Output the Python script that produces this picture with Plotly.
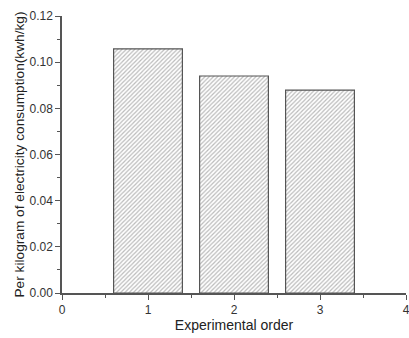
import plotly.graph_objects as go

categories = [1, 2, 3]
values = [0.1058, 0.0940, 0.0879]
x_tickvals = [0, 1, 2, 3, 4]
y_tickvals = [0.00, 0.02, 0.04, 0.06, 0.08, 0.10, 0.12]

fig = go.Figure()
fig.add_trace(go.Bar(
    x=categories, y=values, width=0.8,
    marker=dict(
        color="white",
        line=dict(color="#555555", width=1.2),
        pattern=dict(shape="/", fgcolor="#777777", bgcolor="white", size=3, solidity=0.4),
    ),
    showlegend=False,
))

axis_font = dict(family="Liberation Sans, Arial, sans-serif", size=12, color="#333333")
fig.update_layout(
    width=409, height=338,
    margin=dict(l=62, r=3, t=16, b=45),
    plot_bgcolor="white", paper_bgcolor="white",
    font=axis_font,
    bargap=0.2,
)
fig.update_xaxes(
    range=[0, 4], tickvals=x_tickvals, ticktext=[str(v) for v in x_tickvals],
    showline=True, linecolor="#555555", linewidth=1.5,
    ticks="outside", ticklen=5, tickwidth=1, tickcolor="#555555",
    minor=dict(dtick=0.5, ticks="outside", ticklen=3, tickcolor="#555555", showgrid=False),
    showgrid=False, zeroline=False, automargin=False, ticklabeloverflow="allow",
    title=dict(text="Experimental order", font=dict(size=14, color="#222222"), standoff=4),
)
fig.update_yaxes(
    range=[0, 0.12], tickvals=y_tickvals, ticktext=[f"{v:.2f}" for v in y_tickvals],
    showline=True, linecolor="#555555", linewidth=1.5,
    ticks="outside", ticklen=5, tickwidth=1, tickcolor="#555555",
    minor=dict(dtick=0.01, ticks="outside", ticklen=3, tickcolor="#555555", showgrid=False),
    showgrid=False, zeroline=False, automargin=False, ticklabeloverflow="allow",
    title=dict(text="Per kilogram of electricity consumption(kwh/kg)", font=dict(size=13.7, color="#222222"), standoff=2),
)
fig.write_html("out.html", config={"displayModeBar": False},
               post_script="document.body.style.margin='0';document.body.style.overflow='hidden';")
